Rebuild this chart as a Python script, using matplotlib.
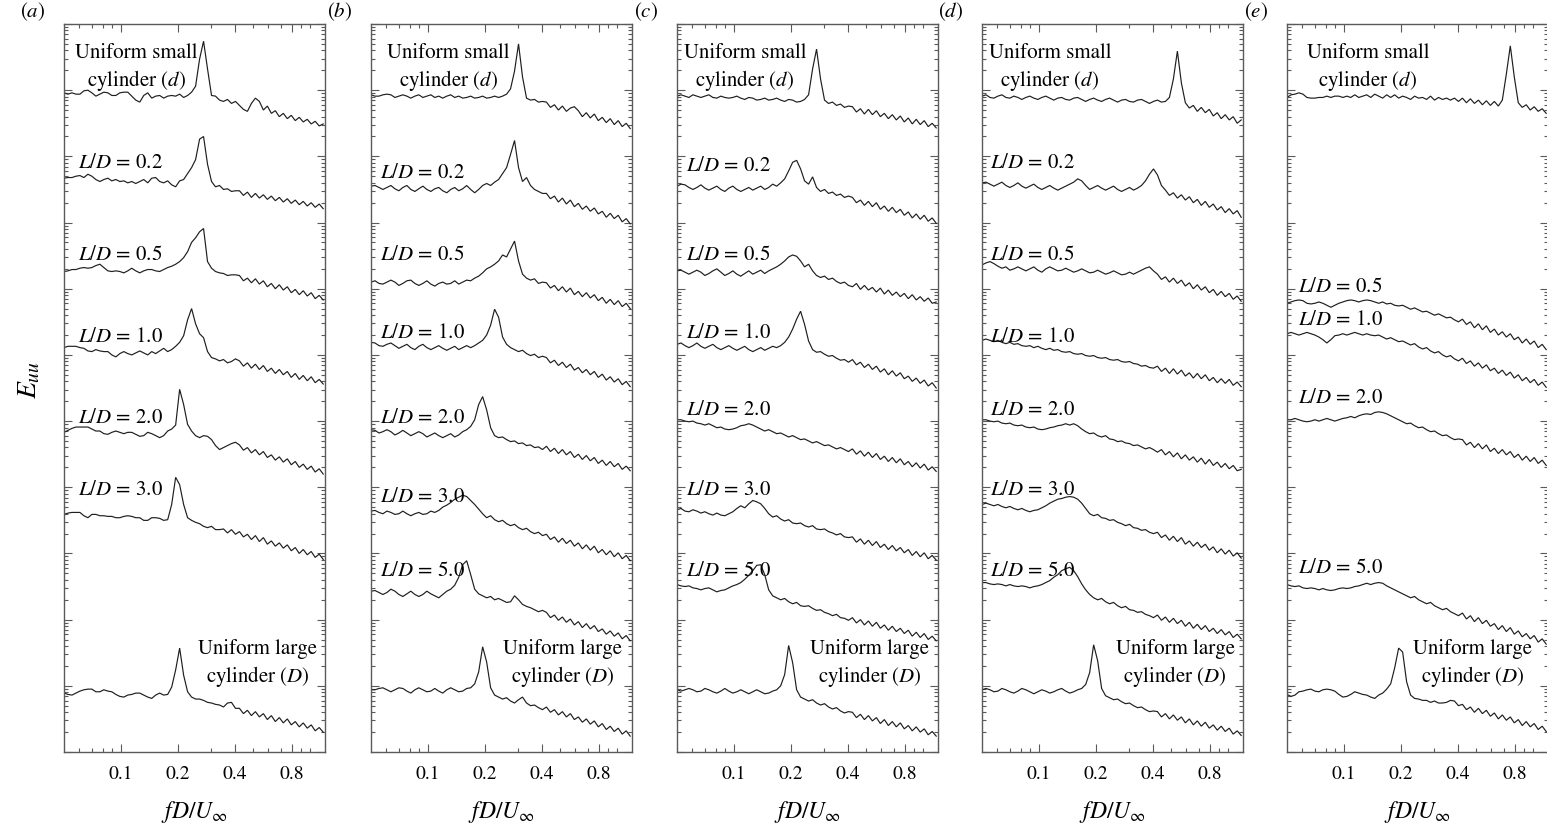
import matplotlib
matplotlib.use("Agg")
import matplotlib.pyplot as plt
from matplotlib.ticker import FixedLocator, FixedFormatter, NullFormatter, LogLocator
import numpy as np

plt.rcParams['font.family'] = 'STIXGeneral'
plt.rcParams['mathtext.fontset'] = 'stix'

# Frequency bins fD/U_inf shared by every spectrum
freq = [0.0500, 0.0525, 0.0551, 0.0578, 0.0607, 0.0637, 0.0669, 0.0702, 0.0737, 0.0774,
        0.0812, 0.0853, 0.0895, 0.0940, 0.0987, 0.1036, 0.1087, 0.1141, 0.1198, 0.1258,
        0.1320, 0.1386, 0.1455, 0.1527, 0.1603, 0.1683, 0.1767, 0.1855, 0.1947, 0.2044,
        0.2146, 0.2252, 0.2364, 0.2482, 0.2606, 0.2735, 0.2871, 0.3014, 0.3164, 0.3322,
        0.3487, 0.3660, 0.3842, 0.4034, 0.4234, 0.4445, 0.4666, 0.4898, 0.5142, 0.5398,
        0.5666, 0.5948, 0.6244, 0.6555, 0.6881, 0.7223, 0.7583, 0.7960, 0.8356, 0.8771,
        0.9208, 0.9666, 1.0147, 1.0651, 1.1181, 1.1738]

# Spectral levels in dB relative to each curve's low-frequency plateau
# ---- panel (a)
a_small = [0.2, 0, 0.2, 0, 0, 0.5, 0.6, 0.2, -0.3, 0,
           0.3, 0.2, -0.2, -0.2, 0.2, 0.3, 0.3, -0.3, -0.9, -1.2,
           -0.2, 0.2, -0.6, -0.3, -0.2, -0.6, -0.3, -0.2, -0.3, 0,
           -0.5, -0.2, 0.3, 1.2, 5.3, 8.0, 3.8, -0.2, -0.3, -0.9,
           -1.1, -0.8, -1.4, -1.1, -1.7, -2.3, -2.6, -1.4, -0.6, -1.1,
           -2.4, -1.8, -2.9, -2.5, -3.4, -2.9, -3.7, -3.2, -4.0, -3.5,
           -4.2, -3.8, -4.5, -4.1, -4.8, -4.5]
a_02 = [0.2, 0.3, 0.3, 0.5, 0.6, 0.3, 0.8, 0.5, 0, -0.3,
        0, 0.2, -0.2, 0, -0.3, -0.2, -0.5, -0.3, -0.6, -0.3,
        0, -0.5, 0.2, 0.3, -0.3, -0.5, -0.2, -0.8, -1.1, -0.2,
        0, 0.9, 1.8, 3.0, 6.1, 6.5, 2.3, -0.3, -1.1, -0.9,
        -1.5, -1.4, -1.8, -1.7, -1.7, -2.4, -1.9, -2.7, -2.1, -2.8,
        -2.3, -3.0, -2.5, -3.2, -2.7, -3.4, -2.9, -3.6, -3.1, -3.8,
        -3.3, -4.0, -3.5, -4.2, -3.7, -4.4]
a_05 = [-0.3, -0.2, 0, 0, 0.2, 0.3, 0.2, 0.3, 0.6, 0.8,
        0.3, -0.2, -0.3, -0.2, -0.3, -0.5, -0.2, 0.2, -0.2, -0.5,
        -0.2, 0, 0, -0.2, -0.3, 0, 0.3, 0.5, 0.8, 1.2,
        1.8, 2.7, 4.1, 4.8, 5.7, 6.2, 1.2, 0.2, -0.3, -0.5,
        -0.6, -0.9, -0.8, -0.8, -0.9, -1.7, -1.3, -2.0, -1.4, -2.2,
        -1.7, -2.6, -2.1, -2.9, -2.3, -3.1, -2.6, -3.5, -3.0, -3.8,
        -3.2, -4.0, -3.5, -4.4, -3.9, -4.6]
a_10 = [0.3, 0.5, 0.5, 0.5, 0.3, 0.2, -0.2, -0.3, 0, -0.2,
        -0.3, -0.3, -0.8, -1.1, -0.6, -0.3, -0.6, -0.8, -0.5, -0.2,
        -0.5, -0.8, -0.3, -0.6, -0.2, 0.2, -0.3, 0, 0.5, 1.1,
        2.1, 4.5, 6.2, 3.9, 2.4, 1.8, -0.3, -1.2, -1.4, -1.7,
        -1.5, -2.0, -1.8, -1.4, -1.7, -2.5, -2.0, -2.8, -2.2, -3.0,
        -2.4, -3.3, -2.8, -3.6, -3.0, -3.8, -3.3, -4.2, -3.6, -4.5,
        -3.9, -4.7, -4.1, -5.0, -4.5, -5.2]
a_20 = [0, 0.3, 0.6, 0.8, 0.8, 0.8, 0.8, 0.5, 0.2, 0.2,
        -0.2, -0.3, 0, 0.2, 0, -0.2, 0, 0, -0.3, -0.6,
        -0.5, 0, -0.2, -0.5, -0.8, -0.5, 0.2, 0.5, 1.1, 6.5,
        4.2, 1.2, 0.2, -0.5, -0.8, -0.5, -0.6, -1.1, -2.0, -2.6,
        -2.3, -2.0, -1.7, -1.5, -1.9, -2.7, -2.3, -3.1, -2.6, -3.4,
        -2.9, -3.8, -3.4, -4.2, -3.7, -4.5, -4.0, -4.9, -4.4, -5.3,
        -4.8, -5.6, -5.1, -6.0, -5.5, -6.3]
a_30 = [0, 0.2, 0.3, 0.3, 0.3, -0.2, -0.5, 0, 0, -0.2,
        -0.2, -0.3, -0.3, -0.5, -0.5, -0.3, -0.2, -0.3, -0.5, -0.5,
        -0.9, -0.9, -0.5, -0.5, -0.6, -0.9, -0.8, 1.5, 5.6, 4.5,
        1.5, -0.5, -0.9, -1.2, -1.4, -1.8, -2.0, -1.8, -2.3, -2.3,
        -2.2, -2.8, -2.3, -3.0, -2.6, -3.4, -3.0, -3.8, -3.2, -4.1,
        -3.5, -4.5, -4.0, -4.8, -4.3, -5.1, -4.6, -5.5, -5.0, -5.9,
        -5.3, -6.1, -5.6, -6.5, -6.0, -6.8]
a_large = [0, -0.2, -0.3, 0, 0.3, 0.5, 0.6, 0.6, 0.2, 0.2,
           0.5, 0.3, 0.2, -0.2, -0.5, -0.6, -0.3, -0.2, 0, 0,
           -0.3, -0.6, -0.8, -0.3, 0, -0.3, -0.2, 0.9, 3.5, 6.8,
           2.7, 0.2, -0.6, -0.9, -0.9, -1.1, -1.4, -1.5, -1.7, -1.8,
           -2.1, -1.5, -1.4, -2.3, -2.3, -3.1, -2.6, -3.4, -2.8, -3.6,
           -3.1, -4.0, -3.4, -4.3, -3.7, -4.5, -3.9, -4.8, -4.3, -5.1,
           -4.5, -5.3, -4.8, -5.7, -5.2, -5.9]
a_offsets = [9.94, 8.65, 7.29, 6.08, 4.83, 3.59, 0.89]

# ---- panel (b)
b_small = [0.2, 0, 0, 0.2, 0.3, 0.2, -0.2, 0, 0.2, 0,
           -0.3, 0, 0.2, -0.2, 0, 0.2, -0.2, 0, -0.3, 0,
           0.2, -0.2, 0, -0.3, -0.2, 0, -0.3, -0.2, 0, -0.3,
           -0.2, 0, -0.2, 0, 0.3, 1.1, 3.8, 7.9, 2.9, -0.3,
           -0.6, -0.5, -0.9, -0.8, -0.9, -1.7, -1.3, -2.1, -1.5, -2.3,
           -1.8, -1.6, -2.2, -3.1, -2.5, -3.3, -2.7, -3.7, -3.2, -4.0,
           -3.4, -4.3, -3.7, -4.6, -4.1, -4.9]
b_02 = [0.2, 0.3, 0, -0.3, 0, 0.3, -0.2, -0.5, 0, 0.3,
        -0.3, -0.6, -0.2, 0.2, -0.3, -0.6, -0.2, 0, -0.5, -0.8,
        -0.3, 0, -0.5, -0.2, 0.3, -0.3, -0.8, -0.3, 0.3, 0.6,
        0.3, 0.8, 1.2, 2.1, 3.0, 5.0, 7.1, 3.0, 0.9, 1.5,
        0.3, -0.3, -0.6, -0.9, -0.9, -1.7, -1.3, -2.2, -1.6, -2.5,
        -1.9, -2.9, -2.4, -3.3, -2.8, -3.6, -3.1, -4.0, -3.6, -4.5,
        -3.9, -4.7, -4.2, -5.2, -4.7, -5.5]
b_05 = [0, 0.2, -0.2, -0.3, 0, 0.3, 0, -0.5, -0.2, 0.2,
        0.3, -0.2, -0.5, -0.2, 0.2, -0.3, -0.6, -0.2, 0, -0.3,
        -0.2, 0.2, -0.3, 0, 0.3, 0.2, 0.6, 0.9, 1.4, 2.0,
        2.3, 2.7, 3.2, 4.1, 3.8, 5.0, 6.2, 3.2, 1.2, 0.6,
        0.3, 0.5, -0.2, 0, -0.1, -0.9, -0.5, -1.3, -0.7, -1.5,
        -0.9, -1.9, -1.4, -2.2, -1.6, -2.4, -1.9, -2.8, -2.3, -3.2,
        -2.6, -3.4, -2.8, -3.7, -3.2, -4.0]
b_10 = [0.3, 0.2, -0.2, -0.3, 0, 0.2, -0.2, -0.6, -0.3, 0,
        -0.5, -0.8, -0.3, 0, -0.5, -0.8, -0.5, -0.2, -0.6, -0.9,
        -0.6, -0.3, -0.8, -0.5, -0.2, -0.5, -0.2, 0.2, 0.6, 1.4,
        2.9, 5.3, 4.1, 1.1, 0, -0.5, -0.8, -1.1, -0.9, -1.4,
        -1.7, -1.5, -2.0, -1.8, -2.0, -2.8, -2.4, -3.2, -2.7, -3.5,
        -3.0, -3.9, -3.5, -4.3, -3.8, -4.6, -4.1, -5.0, -4.5, -5.4,
        -4.9, -5.7, -5.2, -6.1, -5.6, -6.4]
b_20 = [0.3, 0.2, -0.2, 0, 0.3, 0, -0.5, -0.2, 0.2, -0.2,
        -0.6, -0.3, 0, -0.3, -0.8, -0.5, -0.2, -0.6, -0.9, -0.6,
        -0.3, -0.8, -0.5, 0, 0.3, 0.8, 1.8, 4.1, 5.3, 3.3,
        0.6, -0.6, -0.9, -0.8, -1.2, -1.5, -1.4, -1.8, -1.7, -2.1,
        -2.0, -2.4, -2.3, -2.7, -2.2, -3.0, -2.5, -3.3, -2.7, -3.5,
        -3.0, -3.9, -3.4, -4.2, -3.6, -4.4, -3.9, -4.8, -4.3, -5.1,
        -4.5, -5.3, -4.8, -5.7, -5.2, -5.9]
b_30 = [0.2, 0.3, 0, -0.2, 0.2, 0, -0.3, -0.2, 0.2, -0.2,
        -0.5, -0.2, 0, -0.3, -0.2, 0.2, 0, 0.3, 0.8, 1.1,
        1.5, 2.0, 2.3, 2.6, 2.4, 1.8, 1.2, 0.5, -0.2, -0.8,
        -0.5, -1.1, -1.4, -1.2, -1.7, -2.0, -1.8, -2.3, -2.6, -2.4,
        -2.9, -3.2, -3.0, -3.5, -3.3, -4.1, -3.7, -4.5, -3.9, -4.7,
        -4.2, -5.1, -4.6, -5.5, -4.9, -5.7, -5.1, -6.1, -5.6, -6.4,
        -5.8, -6.7, -6.1, -7.0, -6.5, -7.3]
b_50 = [0.2, 0.3, 0, -0.3, 0, 0.5, 0.2, -0.3, -0.6, -0.2,
        0.2, -0.3, -0.6, -0.3, 0.2, -0.2, -0.5, -0.8, -0.3, 0.2,
        0.5, 1.1, 2.3, 4.2, 4.8, 2.7, 0.5, -0.2, -0.5, -0.8,
        -0.6, -1.1, -0.9, -1.2, -1.5, -1.4, -0.5, -1.1, -1.8, -2.1,
        -2.3, -2.6, -2.9, -2.7, -3.0, -3.8, -3.4, -4.2, -3.7, -4.5,
        -4.0, -4.9, -4.4, -5.3, -4.7, -5.5, -5.0, -5.9, -5.5, -6.3,
        -5.8, -6.6, -6.1, -7.0, -6.5, -7.3]
b_large = [0, 0, 0.2, 0.3, 0, -0.3, 0, 0.3, 0.2, -0.2,
           -0.5, 0, 0.3, 0, -0.3, -0.2, 0.2, -0.2, -0.5, 0,
           0.3, 0, -0.3, -0.2, 0.2, 0.3, 0.9, 2.7, 6.5, 4.2,
           0.3, -0.8, -1.1, -1.4, -1.2, -1.7, -2.0, -1.5, -1.1, -2.0,
           -2.4, -2.3, -2.7, -3.0, -2.6, -3.4, -3.0, -3.8, -3.3, -4.1,
           -3.6, -4.5, -4.1, -4.9, -4.4, -5.2, -4.7, -5.6, -5.1, -6.0,
           -5.5, -6.3, -5.8, -6.7, -6.2, -7.0]
b_offsets = [9.91, 8.53, 7.10, 6.16, 4.84, 3.62, 2.41, 0.94]

# ---- panel (c)
c_small = [0, 0.2, 0, -0.2, 0.2, 0, -0.2, 0, 0.2, -0.2,
           -0.3, 0, -0.2, -0.3, -0.2, 0, -0.3, -0.5, -0.2, -0.3,
           -0.6, -0.5, -0.3, -0.6, -0.5, -0.3, -0.6, -0.8, -0.5, -0.6,
           -0.9, -0.8, -0.5, 0.2, 4.1, 7.1, 2.6, -0.6, -1.1, -0.9,
           -1.4, -1.2, -1.7, -1.5, -1.6, -2.4, -1.9, -2.7, -2.0, -2.8,
           -2.2, -3.1, -2.6, -3.4, -2.8, -3.6, -3.0, -3.9, -3.3, -4.2,
           -3.5, -4.3, -3.7, -4.6, -4.1, -4.8]
c_02 = [0, 0.3, 0.2, -0.2, -0.5, -0.2, 0.2, -0.3, -0.6, -0.3,
        0, -0.5, -0.8, -0.3, 0, -0.5, -0.8, -0.5, -0.2, -0.6,
        -0.3, 0, -0.5, -0.2, 0.3, 0, 0.5, 1.1, 2.3, 3.6,
        3.9, 2.6, 0.8, 0.3, 1.4, -0.2, -0.8, -0.5, -1.1, -0.9,
        -1.4, -1.2, -1.7, -1.5, -1.7, -2.5, -2.1, -2.9, -2.3, -3.1,
        -2.5, -3.5, -3.0, -3.8, -3.2, -4.0, -3.5, -4.4, -3.9, -4.8,
        -4.2, -5.0, -4.4, -5.3, -4.8, -5.6]
c_05 = [0.2, 0.3, 0, -0.3, 0, 0.3, 0, -0.5, -0.2, 0.2,
        0.5, 0, -0.5, -0.2, 0.2, -0.3, -0.6, -0.2, 0.2, -0.3,
        0, 0.3, -0.2, 0.2, 0.5, 0.8, 1.2, 1.7, 2.3, 2.6,
        2.4, 1.7, 0.8, 1.2, 0.2, -0.5, -0.8, -0.6, -1.1, -0.9,
        -1.4, -1.7, -1.5, -2.0, -2.2, -1.7, -2.6, -2.0, -2.7, -2.3,
        -3.0, -2.4, -3.3, -2.7, -3.5, -3.0, -3.7, -3.2, -4.0, -3.4,
        -4.2, -3.7, -4.4, -3.9, -4.7, -4.5]
c_10 = [0, 0.2, -0.2, -0.5, -0.2, 0.2, -0.3, -0.6, -0.3, 0,
        -0.5, -0.8, -0.5, -0.2, -0.6, -0.9, -0.6, -0.3, -0.8, -1.1,
        -0.8, -0.5, -0.9, -0.6, -0.3, -0.5, -0.2, 0.3, 1.1, 2.3,
        3.8, 5.0, 3.0, 0.5, -0.8, -1.2, -1.1, -1.5, -1.8, -1.7,
        -2.1, -2.4, -2.3, -2.7, -2.3, -3.1, -2.7, -3.5, -3.0, -3.8,
        -3.3, -4.2, -3.7, -4.6, -4.0, -4.8, -4.3, -5.2, -4.8, -5.6,
        -5.1, -5.9, -5.4, -6.3, -5.8, -6.6]
c_20 = [0, 0, -0.2, -0.3, -0.2, -0.5, -0.6, -0.8, -0.6, -0.9,
        -1.2, -1.1, -1.4, -1.5, -1.4, -1.2, -0.9, -0.8, -0.6, -0.8,
        -1.1, -1.4, -1.7, -1.5, -1.8, -2.1, -2.0, -2.3, -2.6, -2.4,
        -2.7, -3.0, -2.9, -3.2, -3.5, -3.3, -3.6, -3.9, -3.8, -4.1,
        -4.4, -4.2, -4.5, -4.8, -4.4, -5.2, -4.7, -5.5, -4.9, -5.7,
        -5.1, -6.0, -5.5, -6.3, -5.7, -6.5, -5.9, -6.8, -6.3, -7.1,
        -6.5, -7.3, -6.7, -7.6, -7.1, -7.8]
c_30 = [0, 0.2, -0.2, -0.3, 0, -0.2, -0.5, -0.3, -0.6, -0.8,
        -0.5, -0.8, -0.9, -0.6, -0.3, 0.2, 0.6, 0.3, 0.9, 1.4,
        1.2, 0.9, 0.2, -0.6, -1.1, -0.9, -1.4, -1.7, -1.5, -2.0,
        -2.1, -2.0, -2.4, -2.6, -2.4, -2.9, -3.0, -2.9, -3.3, -3.5,
        -3.8, -3.6, -4.1, -4.2, -4.1, -4.9, -4.4, -5.2, -4.6, -5.4,
        -4.8, -5.7, -5.2, -6.0, -5.4, -6.2, -5.7, -6.5, -6.0, -6.9,
        -6.3, -7.1, -6.5, -7.4, -6.9, -7.6]
c_50 = [0, -0.2, -0.3, -0.2, -0.5, -0.6, -0.8, -0.6, -0.5, -0.8,
        -1.1, -0.9, -0.8, -0.5, -0.2, 0, 0.3, 0.8, 1.4, 2.1,
        2.9, 3.0, 1.5, -0.8, -1.7, -2.0, -2.3, -2.1, -2.6, -2.9,
        -2.7, -3.2, -3.3, -3.2, -3.6, -3.9, -3.8, -4.2, -4.4, -4.7,
        -4.5, -5.0, -5.1, -5.4, -5.0, -5.8, -5.3, -6.1, -5.5, -6.3,
        -5.7, -6.6, -6.1, -6.9, -6.3, -7.1, -6.6, -7.4, -6.9, -7.8,
        -7.2, -8.0, -7.4, -8.3, -7.8, -8.5]
c_large = [0, -0.2, 0, 0.2, 0, -0.3, -0.2, 0.2, 0, -0.3,
           -0.5, -0.2, 0.2, -0.2, -0.5, -0.3, 0, -0.3, -0.6, -0.3,
           0, -0.3, -0.6, -0.5, -0.2, 0, 0.6, 2.3, 6.7, 4.1,
           0, -1.1, -1.4, -1.7, -1.5, -2.0, -2.3, -2.1, -2.6, -2.9,
           -2.7, -3.2, -3.5, -3.3, -3.4, -4.2, -3.7, -4.5, -3.9, -4.7,
           -4.2, -5.1, -4.5, -5.4, -4.8, -5.6, -5.0, -5.9, -5.4, -6.2,
           -5.6, -6.4, -5.9, -6.8, -6.3, -7.0]
c_offsets = [9.91, 8.55, 7.25, 6.16, 5.02, 3.66, 2.53, 0.94]

# ---- panel (d)
d_small = [0, 0.2, -0.2, -0.3, 0, 0.2, -0.2, -0.3, 0, -0.2,
           -0.5, -0.2, 0, -0.3, -0.5, -0.2, 0, -0.3, -0.6, -0.3,
           -0.2, -0.5, -0.6, -0.3, -0.2, -0.5, -0.8, -0.5, -0.3, -0.6,
           -0.8, -0.5, -0.3, -0.6, -0.9, -0.6, -0.5, -0.8, -0.9, -0.6,
           -0.5, -0.8, -1.1, -0.8, -0.6, -0.9, -0.8, -0.2, 2.6, 6.8,
           2.0, -1.0, -1.8, -1.4, -2.3, -1.7, -2.5, -2.0, -3.0, -2.5,
           -3.4, -2.8, -3.6, -3.1, -4.1, -3.6]
d_02 = [0.2, 0.3, 0, -0.3, 0, 0.3, -0.2, -0.5, -0.2, 0.2,
        -0.3, -0.6, -0.3, 0, -0.5, -0.8, -0.5, -0.2, -0.6, -0.9,
        -0.6, -0.3, 0, 0.3, 0.8, 0.5, -0.2, -0.8, -0.5, -0.2,
        -0.6, -0.9, -0.6, -0.3, -0.8, -1.1, -0.8, -0.5, -0.9, -0.6,
        -0.2, 0.5, 1.5, 2.3, 1.4, -0.2, -0.9, -1.7, -1.3, -2.1,
        -1.6, -2.4, -1.9, -2.8, -2.3, -3.2, -2.6, -3.5, -3.0, -3.9,
        -3.4, -4.3, -3.7, -4.5, -4.0, -5.0]
d_05 = [0, 0.3, 0.5, 0.2, -0.2, -0.5, -0.3, -0.8, -0.6, -0.3,
        -0.6, -0.9, -0.6, -0.3, -0.8, -1.1, -0.6, -0.3, -0.6, -0.9,
        -0.8, -0.5, -0.8, -1.1, -0.9, -0.6, -0.9, -1.2, -1.1, -0.8,
        -1.1, -1.4, -1.2, -0.9, -1.2, -1.5, -1.4, -1.1, -1.4, -1.1,
        -0.8, -0.5, -0.3, -0.9, -1.4, -2.2, -1.8, -2.6, -2.0, -2.8,
        -2.3, -3.2, -2.7, -3.6, -3.0, -3.8, -3.3, -4.2, -3.7, -4.6,
        -4.0, -4.8, -4.3, -5.2, -4.7, -5.5]
d_10 = [0, 0.2, 0, -0.2, 0, -0.3, -0.5, -0.3, -0.6, -0.5,
        -0.8, -0.9, -0.8, -1.1, -0.9, -1.2, -1.4, -1.2, -1.5, -1.4,
        -1.7, -1.8, -1.7, -2.0, -2.1, -2.0, -2.3, -2.4, -2.3, -2.6,
        -2.7, -2.6, -2.9, -3.0, -2.9, -3.2, -3.3, -3.2, -3.5, -3.6,
        -3.9, -3.8, -4.1, -4.2, -3.9, -4.7, -4.2, -5.0, -4.3, -5.1,
        -4.5, -5.4, -4.9, -5.7, -5.0, -5.8, -5.2, -6.1, -5.6, -6.4,
        -5.8, -6.5, -5.9, -6.8, -6.3, -7.0]
d_20 = [0, 0, -0.2, -0.3, -0.2, -0.5, -0.6, -0.5, -0.8, -0.9,
        -0.8, -1.1, -1.2, -1.1, -1.4, -1.5, -1.4, -1.2, -1.1, -0.9,
        -0.8, -0.6, -0.8, -0.6, -0.9, -1.4, -1.8, -2.1, -2.0, -2.4,
        -2.6, -2.4, -2.9, -3.0, -3.3, -3.2, -3.5, -3.6, -3.9, -3.8,
        -4.1, -4.4, -4.2, -4.5, -4.9, -4.5, -5.3, -4.8, -5.6, -5.0,
        -5.9, -5.3, -6.1, -5.6, -6.4, -5.8, -6.7, -6.0, -6.9, -6.4,
        -7.2, -6.6, -7.4, -6.9, -7.7, -7.5]
d_30 = [0, 0.2, 0, -0.2, 0, -0.3, -0.5, -0.3, -0.6, -0.8,
        -0.6, -0.9, -1.1, -0.9, -0.8, -0.5, -0.2, 0.2, 0.5, 0.8,
        0.9, 1.1, 1.2, 1.1, 0.8, 0.2, -0.6, -1.4, -1.7, -1.5,
        -2.0, -2.1, -2.4, -2.3, -2.7, -2.9, -3.2, -3.0, -3.5, -3.6,
        -3.9, -3.8, -4.2, -4.4, -4.2, -5.0, -4.6, -5.4, -4.8, -5.6,
        -5.0, -6.0, -5.5, -6.3, -5.7, -6.5, -6.0, -6.9, -6.4, -7.3,
        -6.7, -7.5, -6.9, -7.8, -7.3, -8.1]
d_50 = [0, 0, -0.2, -0.3, -0.2, -0.3, -0.5, -0.3, -0.5, -0.6,
        -0.5, -0.6, -0.8, -0.6, -0.5, -0.3, 0, 0.3, 0.8, 1.2,
        1.8, 2.1, 2.3, 1.8, 0.9, -0.2, -1.1, -1.8, -2.3, -2.6,
        -2.4, -2.9, -3.2, -3.0, -3.5, -3.8, -3.6, -4.1, -4.2, -4.5,
        -4.4, -4.8, -5.0, -5.3, -4.9, -5.7, -5.2, -6.0, -5.4, -6.2,
        -5.7, -6.6, -6.0, -6.9, -6.3, -7.1, -6.5, -7.4, -6.9, -7.7,
        -7.1, -7.9, -7.4, -8.3, -7.8, -8.5]
d_large = [0, 0.2, 0, -0.3, -0.2, 0.2, 0, -0.3, -0.5, -0.2,
           0.2, 0, -0.3, -0.6, -0.3, 0, -0.2, -0.5, -0.3, 0,
           0.2, -0.2, -0.5, -0.3, 0, 0.2, 0.8, 2.6, 6.8, 4.4,
           0.2, -0.9, -1.2, -1.5, -1.4, -1.8, -2.1, -2.0, -2.4, -2.7,
           -2.6, -3.0, -3.3, -3.2, -3.3, -4.1, -3.6, -4.4, -3.8, -4.6,
           -4.1, -5.0, -4.4, -5.3, -4.7, -5.5, -4.9, -5.8, -5.3, -6.1,
           -5.5, -6.3, -5.8, -6.7, -6.2, -6.9]
d_offsets = [9.91, 8.58, 7.36, 6.22, 5.02, 3.74, 2.56, 0.94]

# ---- panel (e)
e_small = [-0.2, 0.2, 0.3, 0.5, 0.3, -0.2, -0.3, -0.3, -0.2, -0.2,
           0, -0.2, 0, 0, -0.2, 0, -0.2, 0.2, -0.2, 0,
           0.2, -0.2, 0.3, 0, -0.3, 0.2, -0.2, 0.2, -0.3, 0,
           -0.2, -0.5, 0, -0.3, -0.2, -0.5, 0, -0.6, -0.2, -0.5,
           -0.3, -0.6, -0.3, -0.8, -0.3, -1.0, -0.4, -1.1, -0.6, -1.3,
           -0.7, -1.4, -0.8, -1.5, -0.6, 3.3, 7.6, 2.9, -1.0, -1.7,
           -1.3, -2.1, -1.6, -2.3, -1.9, -2.6]
e_05 = [-0.2, 0, 0.2, 0.3, 0.2, -0.2, -0.3, -0.2, 0, -0.2,
        -0.5, -0.8, -0.5, -0.2, 0, 0.2, 0.3, 0.2, 0, 0.2,
        0.3, 0.2, 0, -0.2, 0, -0.3, -0.2, -0.5, -0.6, -0.5,
        -0.8, -1.1, -0.9, -1.2, -1.5, -1.4, -1.7, -2.0, -1.8, -2.1,
        -2.4, -2.3, -2.7, -3.0, -2.6, -3.4, -3.0, -3.9, -3.3, -4.2,
        -3.6, -4.6, -4.1, -5.0, -4.5, -5.3, -4.8, -5.7, -5.3, -6.2,
        -5.6, -6.4, -5.9, -6.9, -6.4, -7.2]
e_10 = [0, 0.2, 0, -0.2, 0, 0.2, 0, -0.2, -0.5, -0.9,
        -1.4, -0.9, -0.3, -0.2, 0, -0.2, 0, 0.2, 0, -0.2,
        0, -0.2, -0.3, -0.2, -0.5, -0.8, -0.6, -0.9, -1.2, -1.1,
        -1.4, -1.7, -1.5, -2.0, -2.3, -2.1, -2.6, -2.9, -2.7, -3.2,
        -3.5, -3.3, -3.8, -4.1, -3.7, -4.5, -4.1, -4.9, -4.4, -5.2,
        -4.7, -5.6, -5.2, -6.0, -5.5, -6.3, -5.8, -6.7, -6.2, -7.1,
        -6.6, -7.4, -6.9, -7.8, -7.3, -8.1]
e_20 = [0, 0, 0.2, 0, -0.2, -0.3, -0.2, 0, -0.2, 0,
        0.2, 0, -0.2, 0, 0.2, 0.3, 0.5, 0.3, 0.6, 0.8,
        0.9, 0.8, 1.1, 1.2, 1.1, 0.9, 0.6, 0.3, 0, -0.3,
        -0.6, -0.5, -0.9, -1.2, -1.1, -1.5, -1.8, -1.7, -2.1, -2.4,
        -2.3, -2.7, -3.0, -2.9, -3.0, -3.8, -3.4, -4.2, -3.6, -4.4,
        -3.8, -4.8, -4.3, -5.1, -4.5, -5.3, -4.8, -5.7, -5.2, -6.1,
        -5.5, -6.3, -5.7, -6.6, -6.1, -6.9]
e_50 = [0, -0.2, -0.3, -0.2, -0.5, -0.6, -0.5, -0.6, -0.8, -0.6,
        -0.8, -0.9, -0.8, -0.6, -0.5, -0.6, -0.5, -0.3, -0.2, 0,
        0.2, 0, 0.2, 0.3, 0.2, -0.2, -0.5, -0.8, -1.1, -1.4,
        -1.7, -2.0, -1.8, -2.3, -2.6, -2.9, -2.7, -3.2, -3.5, -3.8,
        -3.6, -4.1, -4.4, -4.7, -4.3, -5.2, -4.7, -5.6, -5.0, -5.9,
        -5.4, -6.3, -5.9, -6.8, -6.2, -7.1, -6.5, -7.5, -7.0, -7.9,
        -7.4, -8.2, -7.7, -8.7, -8.2, -9.0]
e_large = [-0.2, -0.5, -0.3, 0.2, 0.3, 0.5, 0.6, 0.3, 0.2, 0.5,
           0.6, 0.5, 0.3, -0.2, -0.6, -0.5, -0.2, 0.2, 0, -0.2,
           -0.3, -0.6, -0.8, -0.3, 0, 0.6, 1.4, 3.8, 6.8, 6.2,
           1.7, -0.3, -0.8, -0.9, -1.1, -1.1, -1.4, -1.2, -1.5, -1.5,
           -1.4, -1.1, -1.2, -1.9, -1.7, -2.5, -2.1, -2.9, -2.3, -3.1,
           -2.6, -3.5, -3.0, -3.9, -3.3, -4.1, -3.6, -4.5, -4.0, -4.9,
           -4.3, -5.1, -4.6, -5.5, -5.0, -5.8]
e_offsets = [9.91, 6.80, 6.32, 5.02, 2.53, 0.89]

# Tick marks on the frequency axis
xticks_major = [0.1, 0.2, 0.4, 0.8]
xtick_labels = ['0.1', '0.2', '0.4', '0.8']
xticks_minor = [0.06, 0.07, 0.08, 0.09, 0.3, 0.5, 0.6, 0.7, 0.9, 1.0]

SMALL = 'Uniform small\ncylinder ($d$)'
LARGE = 'Uniform large\ncylinder ($D$)'

panels = [
    dict(tag='a', curves=[a_small, a_02, a_05, a_10, a_20, a_30, a_large],
         offsets=a_offsets,
         labels=[('$L/D$ = 0.2', 0.054, 0.810), ('$L/D$ = 0.5', 0.054, 0.684),
                 ('$L/D$ = 1.0', 0.054, 0.571), ('$L/D$ = 2.0', 0.054, 0.460),
                 ('$L/D$ = 3.0', 0.054, 0.361)],
         small_xy=(0.276, 0.941), large_xy=(0.743, 0.122)),
    dict(tag='b', curves=[b_small, b_02, b_05, b_10, b_20, b_30, b_50, b_large],
         offsets=b_offsets,
         labels=[('$L/D$ = 0.2', 0.034, 0.797), ('$L/D$ = 0.5', 0.034, 0.684),
                 ('$L/D$ = 1.0', 0.034, 0.577), ('$L/D$ = 2.0', 0.034, 0.460),
                 ('$L/D$ = 3.0', 0.034, 0.352), ('$L/D$ = 5.0', 0.034, 0.250)],
         small_xy=(0.295, 0.941), large_xy=(0.735, 0.122)),
    dict(tag='c', curves=[c_small, c_02, c_05, c_10, c_20, c_30, c_50, c_large],
         offsets=c_offsets,
         labels=[('$L/D$ = 0.2', 0.034, 0.806), ('$L/D$ = 0.5', 0.034, 0.684),
                 ('$L/D$ = 1.0', 0.034, 0.577), ('$L/D$ = 2.0', 0.034, 0.471),
                 ('$L/D$ = 3.0', 0.034, 0.361), ('$L/D$ = 5.0', 0.034, 0.250)],
         small_xy=(0.26, 0.941), large_xy=(0.738, 0.122)),
    dict(tag='d', curves=[d_small, d_02, d_05, d_10, d_20, d_30, d_50, d_large],
         offsets=d_offsets,
         labels=[('$L/D$ = 0.2', 0.031, 0.810), ('$L/D$ = 0.5', 0.031, 0.684),
                 ('$L/D$ = 1.0', 0.031, 0.571), ('$L/D$ = 2.0', 0.031, 0.471),
                 ('$L/D$ = 3.0', 0.031, 0.361), ('$L/D$ = 5.0', 0.031, 0.250)],
         small_xy=(0.26, 0.941), large_xy=(0.74, 0.122)),
    dict(tag='e', curves=[e_small, e_05, e_10, e_20, e_50, e_large],
         offsets=e_offsets,
         labels=[('$L/D$ = 0.5', 0.042, 0.640), ('$L/D$ = 1.0', 0.042, 0.595),
                 ('$L/D$ = 2.0', 0.042, 0.488), ('$L/D$ = 5.0', 0.042, 0.254)],
         small_xy=(0.31, 0.941), large_xy=(0.71, 0.122)),
]

W, H = 1547, 829
fig = plt.figure(figsize=(W / 100, H / 100), dpi=100)
fig.patch.set_facecolor('white')

lefts_px = [64, 371, 677, 982, 1287]
ax_w_px, ax_top_px, ax_bot_px = 261, 25, 753

spine_col = '#5a5a5a'
line_col = '#1e1e1e'

for left, p in zip(lefts_px, panels):
    ax = fig.add_axes([left / W, (H - ax_bot_px) / H, ax_w_px / W,
                       (ax_bot_px - ax_top_px) / H])
    ax.set_xscale('log')
    ax.set_yscale('log')

    f = np.array(freq)
    for levels, off in zip(p['curves'], p['offsets']):
        lv = np.array(levels, dtype=float)
        n = min(len(f), len(lv))
        ax.plot(f[:n], 10.0 ** (off + lv[:n] / 10.0), color=line_col,
                lw=0.85, solid_joinstyle='miter')

    ax.set_xlim(0.05, 1.2)
    ax.set_ylim(1.0, 1e11)

    ax.xaxis.set_major_locator(FixedLocator(xticks_major))
    ax.xaxis.set_major_formatter(FixedFormatter(xtick_labels))
    ax.xaxis.set_minor_locator(FixedLocator(xticks_minor))
    ax.xaxis.set_minor_formatter(NullFormatter())
    ax.yaxis.set_major_locator(LogLocator(base=10, numticks=40))
    ax.yaxis.set_minor_locator(LogLocator(base=10, subs=np.arange(2, 10), numticks=40))
    ax.yaxis.set_major_formatter(NullFormatter())
    ax.yaxis.set_minor_formatter(NullFormatter())

    ax.tick_params(axis='both', which='both', direction='in', top=True, right=True,
                   color=spine_col, width=0.8)
    ax.tick_params(axis='both', which='major', length=5.5)
    ax.tick_params(axis='both', which='minor', length=3.0)
    ax.tick_params(axis='x', which='major', labelsize=14, pad=9)
    for s in ax.spines.values():
        s.set_color(spine_col)
        s.set_linewidth(1.0)

    for txt, x, y in p['labels']:
        ax.text(x, y, txt, transform=ax.transAxes, fontsize=15,
                ha='left', va='center')
    sx, sy = p['small_xy']
    ax.text(sx, sy, SMALL, transform=ax.transAxes, fontsize=15, ha='center',
            va='center', multialignment='center', linespacing=1.3)
    lx, ly = p['large_xy']
    ax.text(lx, ly, LARGE, transform=ax.transAxes, fontsize=15, ha='center',
            va='center', multialignment='center', linespacing=1.3)

    ax.text(-0.12, 1.018, '($%s$)' % p['tag'], transform=ax.transAxes,
            fontsize=15, ha='center', va='center')
    ax.text(0.5, -0.081, r'$fD/U_\infty$', transform=ax.transAxes,
            fontsize=17, ha='center', va='center')

fig.text(30 / W, 1 - 380 / H, r'$E_{uu}$', rotation=90, fontsize=20,
         ha='center', va='center')

fig.savefig('out.png', dpi=100, facecolor='white')
